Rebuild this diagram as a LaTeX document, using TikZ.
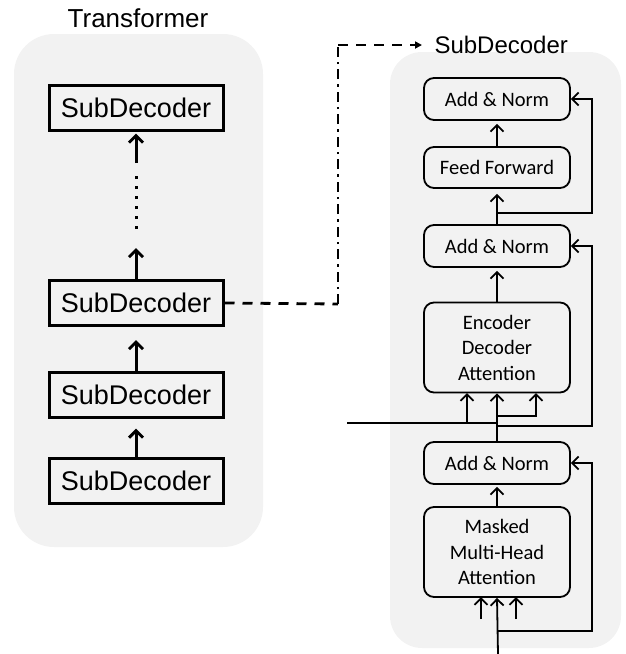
\documentclass[tikz,border=0pt]{standalone}
\usepackage{fontspec}
\setmainfont{Liberation Sans}
\newfontfamily\calfont{Carlito}
\usetikzlibrary{arrows.meta}
\definecolor{panelgray}{HTML}{F2F2F2}
\tikzset{
  panel/.style={fill=panelgray, draw=none},
  bigbox/.style={draw, line width=3pt, minimum width=174pt, minimum height=45pt, inner sep=0pt, font=\fontsize{27}{30}\selectfont},
  smallbox/.style={draw, line width=1.8pt, rounded corners=10pt, minimum width=146pt, inner sep=0pt, align=center, font=\calfont\fontsize{20.5}{25.5}\selectfont},
  bigarrow/.style={line width=3pt, -{Straight Barb[length=7pt,width=14pt,line width=3pt]}},
  smallarrow/.style={line width=1.8pt, -{Straight Barb[length=6.5pt,width=13pt,line width=1.8pt]}},
  plainline/.style={line width=1.8pt},
  linkdash/.style={line width=2.8pt, dash pattern=on 10pt off 8pt},
  linkdashdot/.style={line width=2.8pt, dash pattern=on 10pt off 5pt on 2.5pt off 5pt},
}
\begin{document}
\begin{tikzpicture}[x=1pt,y=-1pt]
\useasboundingbox (0,0) rectangle (625,654);
% panels
\fill[panel, rounded corners=40pt] (14,34) rectangle (263,547);
\fill[panel, rounded corners=32pt] (390,52) rectangle (621,648);
% titles
\node[font=\fontsize{26}{28}\selectfont] (ttrans) at (138,18) {Transformer};
\node[font=\fontsize{24}{26}\selectfont, anchor=west] (tsub) at (431,45) {SubDecoder};
% left boxes
\node[bigbox] (b1) at (136,107.5) {SubDecoder};
\node[bigbox] (b2) at (136,303) {SubDecoder};
\node[bigbox] (b3) at (136,394.5) {SubDecoder};
\node[bigbox] (b4) at (136,480.5) {SubDecoder};
\coordinate (dtip) at (136,248);
\coordinate (dtop) at (136,176);
\coordinate (dbot) at (136,229);
\coordinate (astart) at (136,163);
\draw[bigarrow, shorten >=10pt] (b4.north) -- (b3.south);
\draw[bigarrow, shorten >=13pt] (b3.north) -- (b2.south);
\draw[bigarrow] (b2.north) -- (dtip);
\draw[line width=3pt, dash pattern=on 3pt off 7pt] (dbot) -- (dtop);
\draw[bigarrow, shorten >=2pt] (astart) -- (b1.south);
% link
\coordinate (lc1) at (338,304);
\coordinate (lc2) at (338,45);
\coordinate (lc3) at (422,45);
\draw[linkdash] (b2.east) -- (lc1);
\draw[linkdashdot] (lc1) -- (lc2);
\draw[linkdash, -{Triangle[length=7pt,width=7pt]}] (lc2) -- (lc3);
% right boxes
\node[smallbox, minimum height=42pt] (an1) at (497,99) {Add \& Norm};
\node[smallbox, minimum height=41pt] (ff) at (497,167.5) {Feed Forward};
\node[smallbox, minimum height=42pt] (an2) at (497,246) {Add \& Norm};
\node[smallbox, minimum height=90pt] (eda) at (497,347.5) {Encoder\\Decoder\\Attention};
\node[smallbox, minimum height=42pt] (an3) at (497,463) {Add \& Norm};
\node[smallbox, minimum height=90pt] (mm) at (497,552) {Masked\\Multi-Head\\Attention};
% right arrows
\draw[smallarrow, shorten >=3pt] (ff.north) -- (an1.south);
\draw[smallarrow, shorten >=5pt] (an2.north) -- (ff.south);
\draw[smallarrow, shorten >=3pt] (eda.north) -- (an2.south);
\draw[smallarrow, shorten >=2pt] (mm.north) -- (an3.south);
\draw[smallarrow] (an3.north) -- (eda.south);
% residual 1
\coordinate (r1a) at (497,213);
\coordinate (r1b) at (592,213);
\coordinate (r1c) at (592,99);
\draw[smallarrow] (r1a) -- (r1b) -- (r1c) -- (an1.east);
% encoder input and residual 2
\coordinate (enc) at (347,423);
\coordinate (enca) at (467,423);
\coordinate (encb) at (467,393);
\draw[plainline] (enc) -- (497,423);
\draw[smallarrow] (enca) -- (encb);
\coordinate (r2a) at (497,426);
\coordinate (r2b) at (592,426);
\coordinate (r2c) at (592,246);
\draw[smallarrow] (r2a) -- (r2b) -- (r2c) -- (an2.east);
\coordinate (bra) at (497,416);
\coordinate (brb) at (536,416);
\coordinate (brc) at (536,393);
\draw[smallarrow] (bra) -- (brb) -- (brc);
% bottom input
\coordinate (inp) at (498,654);
\draw[smallarrow] (inp) -- (mm.south);
\coordinate (s1) at (481,619);
\coordinate (s1t) at (481,597);
\coordinate (s2) at (516,619);
\coordinate (s2t) at (516,597);
\draw[smallarrow] (s1) -- (s1t);
\draw[smallarrow] (s2) -- (s2t);
\coordinate (r3a) at (498,631);
\coordinate (r3b) at (592,631);
\coordinate (r3c) at (592,463);
\draw[smallarrow] (r3a) -- (r3b) -- (r3c) -- (an3.east);
\end{tikzpicture}
\end{document}
